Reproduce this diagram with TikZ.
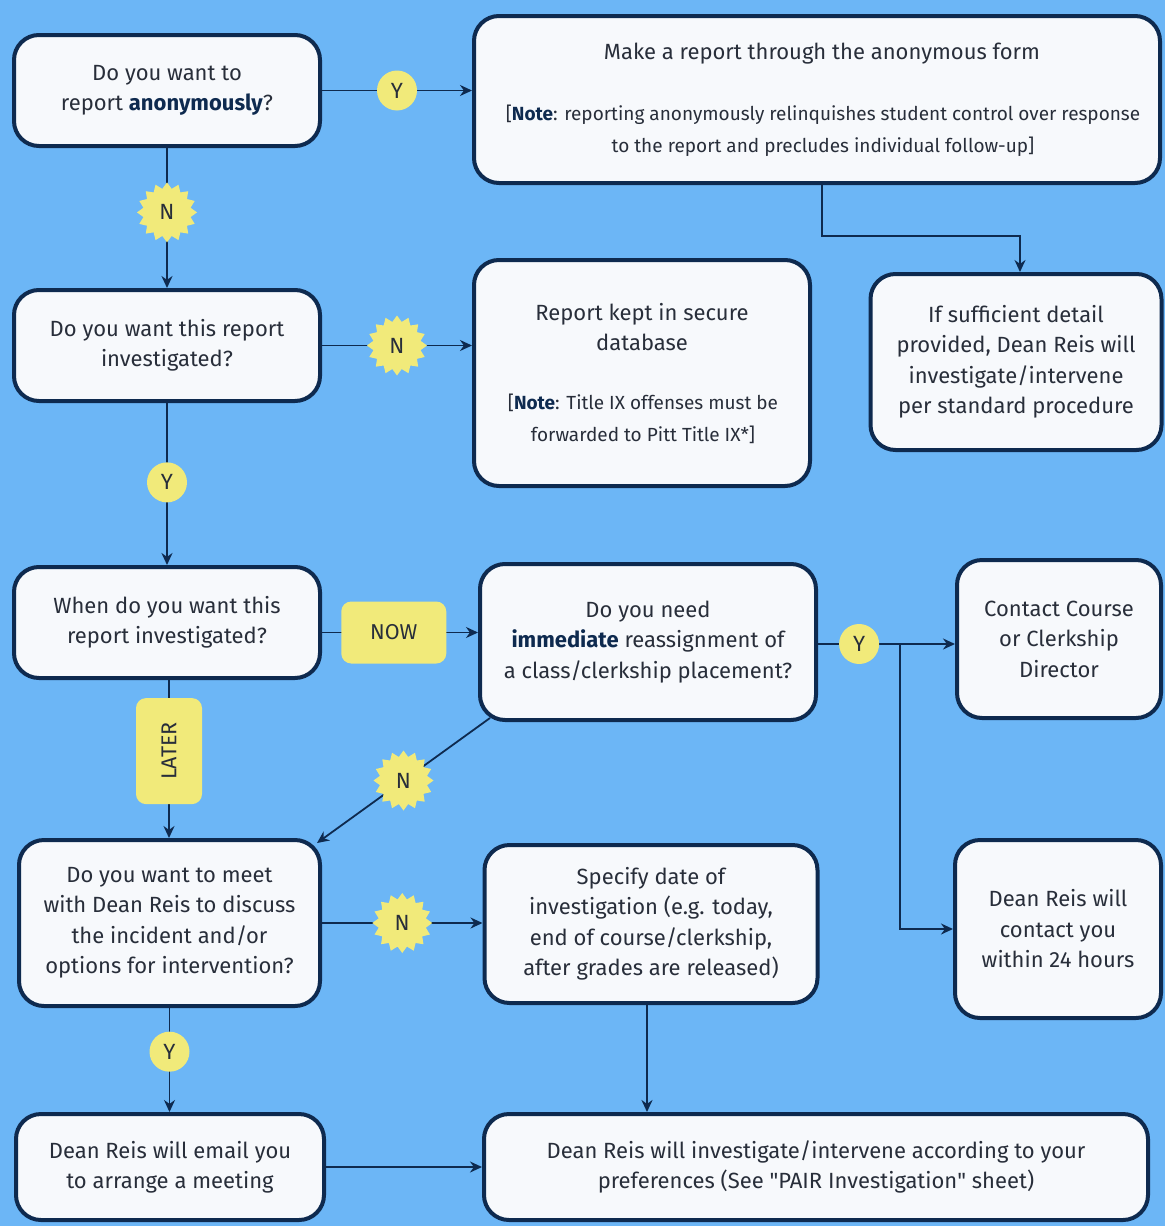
\documentclass[tikz,border=0pt]{standalone}
\usepackage{fontspec}
\setmainfont{Fira Sans}
\usetikzlibrary{shapes.geometric,arrows.meta,calc}
\definecolor{bg}{RGB}{108,182,246}
\definecolor{navy}{RGB}{14,42,79}
\definecolor{boxfill}{RGB}{247,249,252}
\definecolor{yel}{RGB}{241,234,122}
\definecolor{txt}{RGB}{40,46,58}
\newcommand\bn[1]{\textcolor{navy}{\textbf{#1}}}
\tikzset{
  box/.style={draw=navy, line width=4pt, fill=boxfill, rounded corners=25pt,
    align=center, text=txt, font=\fontsize{22}{30.5}\selectfont, inner sep=0pt},
  plain/.style={align=center, text=txt, inner sep=0pt},
  maintext/.style={plain, font=\fontsize{22}{30.5}\selectfont},
  notetext/.style={plain, font=\fontsize{19}{31.5}\selectfont},
  arr/.style={draw=navy, line width=1.8pt, -{Stealth[length=12pt,width=11pt]}},
  ycirc/.style={circle, fill=yel, minimum size=40pt, inner sep=0pt, text=txt,
    font=\fontsize{22}{24}\selectfont},
  nstar/.style={star, star points=16, star point ratio=1.25, fill=yel,
    minimum size=60pt, inner sep=0pt, text=txt, font=\fontsize{22}{24}\selectfont},
  tag/.style={fill=yel, rounded corners=10pt, inner sep=0pt, text=txt,
    font=\fontsize{21.5}{24}\selectfont},
}
\begin{document}
\begin{tikzpicture}[x=1pt,y=-1pt]
\fill[bg] (0,0) rectangle (1165,1226);
\useasboundingbox (0,0) rectangle (1165,1226);

% boxes
\node[box, minimum width=306pt, minimum height=111pt] (A) at (167,90.5)
  {Do you want to\\report \bn{anonymously}?};
\node[box, minimum width=686pt, minimum height=167pt] (B) at (817,99.5) {};
\node[maintext] (Bt) at (822,54) {Make a report through the anonymous form};
\node[notetext] (Bn) at (823,131) {[\bn{Note}: reporting anonymously relinquishes student control over response\\to the report and precludes individual follow-up]};
\node[box, minimum width=291pt, minimum height=176pt] (C) at (1016,362)
  {If sufficient detail\\provided, Dean Reis will\\investigate/intervene\\per standard procedure};
\node[box, minimum width=306pt, minimum height=111pt] (D) at (167,345.5)
  {Do you want this report\\investigated?};
\node[box, minimum width=336pt, minimum height=226pt] (E) at (642,373) {};
\node[maintext] (Et) at (642,327) {Report kept in secure\\database};
\node[notetext] (En) at (643,419) {[\bn{Note}: Title IX offenses must be\\forwarded to Pitt Title IX*]};
\node[box, minimum width=306pt, minimum height=111pt] (F) at (167,622.5)
  {When do you want this\\report investigated?};
\node[box, minimum width=336pt, minimum height=156pt] (G) at (648,642)
  {Do you need\\\bn{immediate} reassignment of\\a class/clerkship placement?};
\node[box, minimum width=204pt, minimum height=158pt] (H) at (1059,639)
  {Contact Course\\or Clerkship\\Director};
\node[box, minimum width=301pt, minimum height=166pt] (I) at (169.5,923)
  {Do you want to meet\\with Dean Reis to discuss\\the incident and/or\\options for intervention?};
\node[box, minimum width=333pt, minimum height=158pt] (J) at (651,924)
  {Specify date of\\investigation (e.g. today,\\end of course/clerkship,\\after grades are released)};
\node[box, minimum width=206pt, minimum height=178pt] (K) at (1058,929)
  {Dean Reis will\\contact you\\within 24 hours};
\node[box, minimum width=308pt, minimum height=106pt] (L) at (170,1167)
  {Dean Reis will email you\\to arrange a meeting};
\node[box, minimum width=664pt, minimum height=106pt] (M) at (816,1167)
  {Dean Reis will investigate/intervene according to your\\preferences (See \textquotedbl PAIR Investigation\textquotedbl\ sheet)};

% connectors
\draw[arr] (A.east) -- node[ycirc] (y1) {Y} (A.east -| B.west);
\draw[arr] (A.south) -- node[nstar, pos=0.46] (n1) {N} (D.north);
\draw[arr] ($(B.south)+(5,0)$) -- ++(0,51) -| ($(C.north)+(4,0)$);
\draw[arr] (D.east) -- node[nstar] (n2) {N} (D.east -| E.west);
\draw[arr] (D.south) -- node[ycirc, pos=0.49] (y2) {Y} (D.north |- F.north);
\draw[arr] ($(F.east)+(0,10)$) -- node[tag, pos=0.46, minimum width=105pt, minimum height=62pt] (now) {NOW} ($(F.east -| G.west)+(0,10)$);
\draw[arr] ($(F.south)+(2,0)$) -- node[tag, pos=0.45, rotate=90, minimum width=106pt, minimum height=66pt] (later) {LATER} ($(F.south |- I.north)+(2,0)$);
\draw[arr] ($(G.east)+(0,2)$) -- node[ycirc, pos=0.3] (y3) {Y} ($(G.east -| H.west)+(0,2)$);
\coordinate (br) at ($(G.east)+(82,2)$);
\draw[arr] (br) |- (K.west);
\draw[arr] ($(G.south west)+(12,-4)$) -- node[nstar] (n3) {N} ($(I.north east)+(-5,5)$);
\draw[arr] (I.east) -- node[nstar] (n4) {N} (I.east -| J.west);
\draw[arr] (I.south) -- node[ycirc, pos=0.42] (y4) {Y} (I.south |- L.north);
\draw[arr] ($(J.south)+(-4,0)$) -- ($(J.south |- M.north)+(-4,0)$);
\draw[arr] (L.east) -- (L.east -| M.west);
\end{tikzpicture}
\end{document}
